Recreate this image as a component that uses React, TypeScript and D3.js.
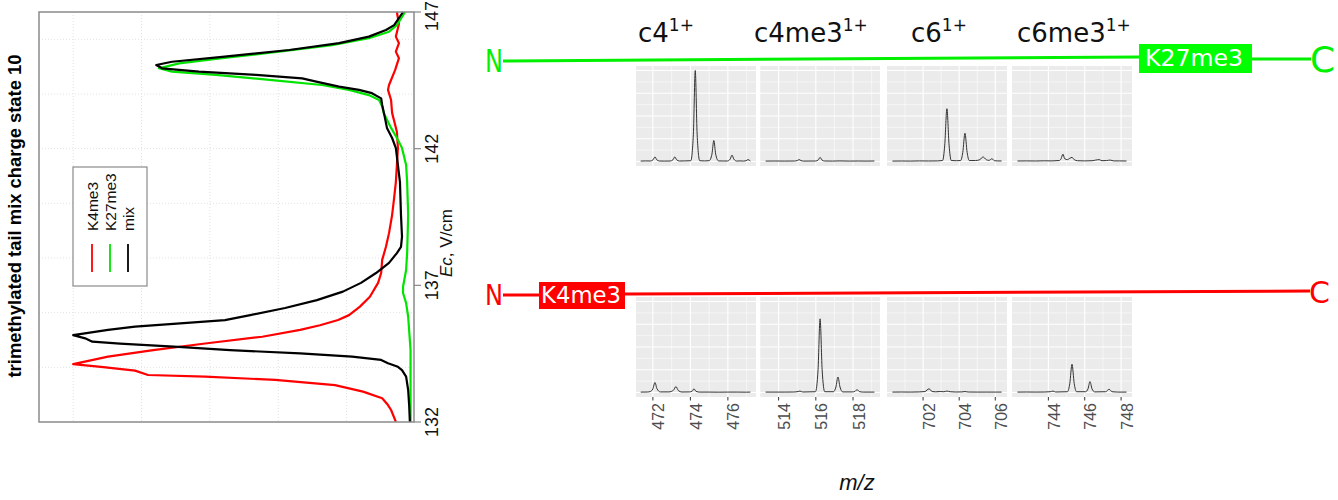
import React from 'react';
import * as d3 from 'd3';

type Pt = [number, number];

// ---- left plot: normalised intensity vs compensation field Ec (V/cm)
const ecTicks = [132, 137, 142, 147];
const ecGridLines = [134, 136, 138, 140, 142, 144, 146];
const intensityGridLines = [0.2, 0.4, 0.6, 0.8, 1.0];
const seriesNames = ['K4me3', 'K27me3', 'mix'];
const seriesColors = ['#ff0000', '#00e400', '#000000'];

// [Ec, intensity]
const k4me3Curve: Pt[] = [
  [132.01, 0.056], [132.44, 0.07], [132.62, 0.079], [132.87, 0.096], [133.11, 0.152], [133.35, 0.234],
  [133.54, 0.409], [133.66, 0.614], [133.72, 0.781], [133.88, 0.819], [134.01, 0.912], [134.12, 1.0],
  [134.39, 0.898], [134.63, 0.766], [134.88, 0.608], [135.12, 0.447], [135.37, 0.336], [135.54, 0.278],
  [135.73, 0.225], [135.91, 0.193], [136.22, 0.161], [136.58, 0.132], [137.09, 0.108], [137.45, 0.099],
  [137.93, 0.096], [138.41, 0.085], [138.91, 0.076], [139.57, 0.067], [140.2, 0.061], [140.78, 0.056],
  [141.4, 0.053], [142.02, 0.05], [142.62, 0.053], [143.31, 0.067], [143.78, 0.07], [144.15, 0.079],
  [144.33, 0.076], [144.88, 0.058], [145.31, 0.047], [145.55, 0.056], [145.86, 0.047], [146.1, 0.056],
  [146.56, 0.047], [147.0, 0.053],
];
const k27me3Curve: Pt[] = [
  [132.0, 0.013], [134.63, 0.013], [135.85, 0.02], [136.35, 0.026], [136.72, 0.035], [136.95, 0.035],
  [137.56, 0.026], [138.18, 0.023], [139.57, 0.02], [140.78, 0.023], [141.4, 0.026], [142.02, 0.038],
  [142.39, 0.053], [142.76, 0.07], [143.29, 0.091], [143.54, 0.096], [143.78, 0.105], [143.96, 0.135],
  [144.15, 0.193], [144.33, 0.272], [144.51, 0.418], [144.7, 0.582], [144.82, 0.711], [144.94, 0.749],
  [145.12, 0.69], [145.31, 0.564], [145.55, 0.398], [145.79, 0.243], [146.04, 0.135], [146.28, 0.076],
  [146.52, 0.053], [147.0, 0.029],
];
const mixCurve: Pt[] = [
  [132.0, 0.015], [132.6, 0.017], [133.17, 0.02], [133.66, 0.026], [133.9, 0.038], [134.02, 0.05],
  [134.15, 0.079], [134.27, 0.099], [134.39, 0.184], [134.51, 0.336], [134.63, 0.541], [134.75, 0.693],
  [134.87, 0.863], [134.94, 0.944], [135.06, 0.965], [135.18, 1.0], [135.37, 0.898], [135.49, 0.819],
  [135.61, 0.687], [135.73, 0.556], [135.91, 0.482], [136.17, 0.38], [136.46, 0.287], [136.77, 0.211],
  [137.09, 0.158], [137.45, 0.114], [137.82, 0.076], [138.18, 0.053], [138.41, 0.041], [138.78, 0.038],
  [139.57, 0.041], [140.78, 0.044], [141.4, 0.05], [142.02, 0.056], [142.39, 0.067], [142.76, 0.082],
  [143.31, 0.091], [143.6, 0.096], [143.84, 0.099], [144.03, 0.126], [144.15, 0.164], [144.27, 0.222],
  [144.45, 0.289], [144.57, 0.33], [144.7, 0.465], [144.82, 0.632], [144.94, 0.74], [145.06, 0.757],
  [145.18, 0.711], [145.36, 0.564], [145.61, 0.368], [145.86, 0.222], [146.1, 0.135], [146.34, 0.085],
  [146.52, 0.061], [147.0, 0.035],
];

// ---- right: fragment spectra, one panel per fragment, rows = K27me3 / K4me3
const fragmentNames = ['c4', 'c4me3', 'c6', 'c6me3'];
const fragmentCharge = '1+';
const mzDomains: Pt[] = [[471.1, 477.5], [513.0, 519.45], [700.0, 706.65], [742.0, 748.6]];
const mzTicks = [[472, 474, 476], [514, 516, 518], [702, 704, 706], [744, 746, 748]];

// [m/z, relative intensity]
const k27me3Spectra: Pt[][] = [
  [[471.35, 0.004], [471.6, 0.006], [471.86, 0.005], [472.01, 0.018], [472.11, 0.05], [472.21, 0.018], [472.36, 0.005],
   [472.6, 0.004], [472.92, 0.005], [473.07, 0.018], [473.17, 0.05], [473.27, 0.018], [473.42, 0.005], [473.7, 0.006],
   [474.02, 0.008], [474.16, 0.3], [474.26, 1.0], [474.36, 0.3], [474.5, 0.008], [474.75, 0.006], [475.0, 0.008],
   [475.15, 0.08], [475.25, 0.23], [475.35, 0.08], [475.5, 0.006], [475.75, 0.005], [475.97, 0.005], [476.12, 0.025],
   [476.22, 0.07], [476.32, 0.025], [476.47, 0.004], [476.65, 0.006], [476.85, 0.004], [476.97, 0.008], [477.07, 0.02],
   [477.2, 0.005]],
  [[513.3, 0.004], [513.8, 0.005], [514.3, 0.004], [514.85, 0.005], [515.0, 0.01], [515.1, 0.02], [515.2, 0.01],
   [515.35, 0.004], [515.98, 0.005], [516.13, 0.016], [516.23, 0.045], [516.33, 0.016], [516.48, 0.005], [516.9, 0.004],
   [517.3, 0.006], [517.8, 0.004], [518.3, 0.005], [518.7, 0.004], [519.15, 0.005]],
  [[700.3, 0.004], [700.8, 0.005], [701.3, 0.004], [701.8, 0.006], [702.3, 0.005], [702.8, 0.006], [703.08, 0.01],
   [703.2, 0.18], [703.32, 0.58], [703.44, 0.18], [703.56, 0.01], [703.85, 0.008], [704.08, 0.01], [704.2, 0.1],
   [704.32, 0.31], [704.44, 0.1], [704.56, 0.01], [704.9, 0.01], [705.15, 0.02], [705.32, 0.05], [705.5, 0.02],
   [705.65, 0.012], [705.82, 0.03], [705.95, 0.008], [706.1, 0.006], [706.35, 0.005]],
  [[742.3, 0.005], [742.8, 0.006], [743.3, 0.005], [743.8, 0.007], [744.2, 0.006], [744.6, 0.01], [744.7, 0.03],
   [744.8, 0.08], [744.9, 0.03], [745.05, 0.02], [745.18, 0.035], [745.3, 0.045], [745.42, 0.02], [745.6, 0.008],
   [746.0, 0.006], [746.4, 0.008], [746.6, 0.015], [746.79, 0.02], [746.95, 0.008], [747.2, 0.01], [747.4, 0.015],
   [747.6, 0.006], [747.9, 0.006], [748.3, 0.005]],
];
const k4me3Spectra: Pt[][] = [
  [[471.35, 0.004], [471.7, 0.005], [471.86, 0.01], [472.0, 0.04], [472.11, 0.11], [472.22, 0.04], [472.4, 0.006],
   [472.85, 0.006], [473.1, 0.025], [473.23, 0.065], [473.36, 0.02], [473.55, 0.005], [473.95, 0.006], [474.1, 0.015],
   [474.19, 0.04], [474.3, 0.012], [474.5, 0.004], [475.0, 0.004], [475.5, 0.003], [476.0, 0.004], [476.5, 0.004],
   [477.0, 0.003], [477.2, 0.004]],
  [[513.3, 0.004], [513.8, 0.004], [514.3, 0.004], [514.8, 0.005], [515.05, 0.01], [515.15, 0.015], [515.3, 0.005],
   [515.98, 0.008], [516.12, 0.25], [516.23, 0.81], [516.34, 0.25], [516.48, 0.008], [516.95, 0.008], [517.08, 0.06],
   [517.19, 0.17], [517.3, 0.06], [517.45, 0.006], [517.95, 0.006], [518.1, 0.012], [518.22, 0.03], [518.34, 0.01],
   [518.55, 0.004], [519.15, 0.004]],
  [[700.3, 0.004], [700.8, 0.005], [701.3, 0.004], [701.8, 0.006], [702.1, 0.01], [702.33, 0.04], [702.5, 0.01],
   [702.7, 0.007], [702.95, 0.01], [703.15, 0.008], [703.32, 0.015], [703.5, 0.008], [703.8, 0.005], [704.15, 0.006],
   [704.32, 0.01], [704.5, 0.005], [705.0, 0.004], [705.5, 0.004], [706.0, 0.004], [706.35, 0.004]],
  [[742.3, 0.004], [742.8, 0.005], [743.3, 0.004], [743.8, 0.005], [744.1, 0.008], [744.26, 0.015], [744.4, 0.005],
   [745.05, 0.008], [745.18, 0.1], [745.3, 0.31], [745.42, 0.1], [745.55, 0.008], [746.05, 0.008], [746.18, 0.04],
   [746.29, 0.12], [746.4, 0.04], [746.55, 0.006], [747.15, 0.008], [747.34, 0.035], [747.5, 0.008], [747.8, 0.004],
   [748.3, 0.004]],
];

const panelX = [636, 760, 887, 1012];
const rowY = [66, 297];
const panelW = 120;
const panelH = 100;
const stripLabelX = [638, 754, 911, 1017];

const SANS = 'Liberation Sans, Arial, sans-serif';
const VERD = 'DejaVu Sans, Verdana, sans-serif';
const GREEN = '#00f000';

const App = () => {
  const ecScale = d3.scaleLinear().domain([132, 147]).range([422, 12]);
  const intScale = d3.scaleLinear().domain([0, 1.1]).range([415, 39]);
  const curveLine = d3.line<Pt>().x(d => intScale(d[1])).y(d => ecScale(d[0]));
  const curves = [k4me3Curve, k27me3Curve, mixCurve];

  const specY = d3.scaleLinear().domain([-0.05, 1.05]).range([panelH, 0]);
  const hGrid = d3.range(0, 9).map(i => i * 0.125);

  const panel = (spec: Pt[], col: number, row: number) => {
    const sx = d3.scaleLinear().domain(mzDomains[col]).range([0, panelW]);
    const line = d3.line<Pt>().x(d => sx(d[0])).y(d => specY(d[1])).curve(d3.curveMonotoneX);
    const [lo, hi] = mzDomains[col];
    const minorX = d3.range(Math.ceil(lo), Math.floor(hi) + 1).filter(v => v % 2 !== 0);
    return (
      <g key={`${row}-${col}`} transform={`translate(${panelX[col]},${rowY[row]})`}>
        <rect width={panelW} height={panelH} fill="#ebebeb" />
        {hGrid.map((v, i) => (
          <line key={'h' + i} x1={0} x2={panelW} y1={specY(v)} y2={specY(v)} stroke="#fff"
            strokeWidth={i % 2 === 0 ? 1.1 : 0.55} />
        ))}
        {minorX.map(v => (
          <line key={'m' + v} x1={sx(v)} x2={sx(v)} y1={0} y2={panelH} stroke="#fff" strokeWidth={0.55} />
        ))}
        {mzTicks[col].map(v => (
          <line key={'M' + v} x1={sx(v)} x2={sx(v)} y1={0} y2={panelH} stroke="#fff" strokeWidth={1.1} />
        ))}
        <path d={line(spec) || ''} fill="none" stroke="#333" strokeWidth={1} />
        {row === 1 && mzTicks[col].map(v => (
          <g key={'t' + v}>
            <line x1={sx(v)} x2={sx(v)} y1={panelH} y2={panelH + 3.5} stroke="#333" strokeWidth={1} />
            <text transform={`translate(${sx(v) + 11.5},${panelH + 6}) rotate(-90)`} textAnchor="end"
              fontFamily={SANS} fontSize={16} fill="#4d4d4d">{v}</text>
          </g>
        ))}
      </g>
    );
  };

  return (
    <svg width={1338} height={500} style={{ position: 'absolute', left: 0, top: 0, background: '#fff' }}>
      {/* left plot */}
      <text transform="translate(21,216) rotate(-90)" textAnchor="middle" fontFamily={SANS} fontWeight="bold"
        fontSize={19} textLength={323} lengthAdjust="spacingAndGlyphs">
        trimethylated tail mix charge state 10
      </text>
      {intensityGridLines.map(v => (
        <line key={'vg' + v} x1={intScale(v)} x2={intScale(v)} y1={12} y2={422} stroke="#e2e2e2"
          strokeDasharray="1,2" />
      ))}
      {ecGridLines.map(v => (
        <line key={'hg' + v} x1={39} x2={414} y1={ecScale(v)} y2={ecScale(v)} stroke="#e2e2e2"
          strokeDasharray="1,2" />
      ))}
      {curves.map((c, i) => (
        <path key={seriesNames[i]} d={curveLine(c) || ''} fill="none" stroke={seriesColors[i]} strokeWidth={2.2}
          strokeLinejoin="round" />
      ))}
      <rect x={39} y={12} width={375} height={410} fill="none" stroke="#8a8a8a" strokeWidth={1.5} />
      {ecTicks.map(v => (
        <g key={'ec' + v}>
          <line x1={414} x2={421} y1={ecScale(v)} y2={ecScale(v)} stroke="#8a8a8a" strokeWidth={1.2} />
          <text transform={`translate(438,${Math.max(ecScale(v), 16)}) rotate(-90)`} textAnchor="middle"
            fontFamily={SANS} fontSize={18} fill="#111">{v}</text>
        </g>
      ))}
      <text transform="translate(452,243) rotate(-90)" textAnchor="middle" fontFamily={SANS} fontSize={17}
        fill="#111">
        <tspan fontStyle="italic">Ec</tspan>, V/cm
      </text>
      {/* legend */}
      <rect x={73} y={167} width={74} height={119} fill="#fff" stroke="#8a8a8a" strokeWidth={1.2} />
      {seriesNames.map((n, i) => (
        <g key={'lg' + n}>
          <line x1={92 + i * 18} x2={92 + i * 18} y1={244} y2={272} stroke={seriesColors[i]} strokeWidth={1.8} />
          <text transform={`translate(${97.5 + i * 18},231) rotate(-90)`} fontFamily={SANS} fontSize={15.5}
            fill="#111">{n}</text>
        </g>
      ))}

      {/* protein schematics */}
      <line x1={503} y1={61} x2={1139} y2={57} stroke={GREEN} strokeWidth={3} />
      <line x1={1252} y1={59} x2={1311} y2={59} stroke={GREEN} strokeWidth={3} />
      <rect x={1139} y={44} width={113} height={29} fill="#00ff00" />
      <text x={1145} y={66} fontFamily={VERD} fontSize={23} fill="#fff" textLength={98}
        lengthAdjust="spacingAndGlyphs">{seriesNames[1]}</text>
      <text x={485} y={72} fontFamily={VERD} fontSize={32} fill={GREEN} textLength={18}
        lengthAdjust="spacingAndGlyphs">N</text>
      <text x={1310} y={72} fontFamily={VERD} fontSize={36} fill={GREEN}>C</text>

      <line x1={503} y1={295} x2={539} y2={295} stroke="#ff0000" strokeWidth={3} />
      <line x1={625} y1={294} x2={1310} y2={291} stroke="#ff0000" strokeWidth={3} />
      <rect x={539} y={282} width={86} height={27} fill="#ff0000" />
      <text x={541} y={303} fontFamily={VERD} fontSize={23} fill="#fff" textLength={80}
        lengthAdjust="spacingAndGlyphs">{seriesNames[0]}</text>
      <text x={485} y={305} fontFamily={VERD} fontSize={29} fill="#ff0000" textLength={18}
        lengthAdjust="spacingAndGlyphs">N</text>
      <text x={1309} y={303} fontFamily={VERD} fontSize={30} fill="#ff0000">C</text>

      {/* strip labels */}
      {fragmentNames.map((f, i) => (
        <text key={'s' + f} x={stripLabelX[i]} y={42} fontFamily={VERD} fontSize={26} fill="#111">
          {f}
          <tspan fontSize={17} dy={-11}>{fragmentCharge}</tspan>
        </text>
      ))}

      {k27me3Spectra.map((s, i) => panel(s, i, 0))}
      {k4me3Spectra.map((s, i) => panel(s, i, 1))}

      <text x={857} y={490} textAnchor="middle" fontFamily={SANS} fontStyle="italic" fontSize={22} fill="#111">m/z</text>
    </svg>
  );
};

export default App;
